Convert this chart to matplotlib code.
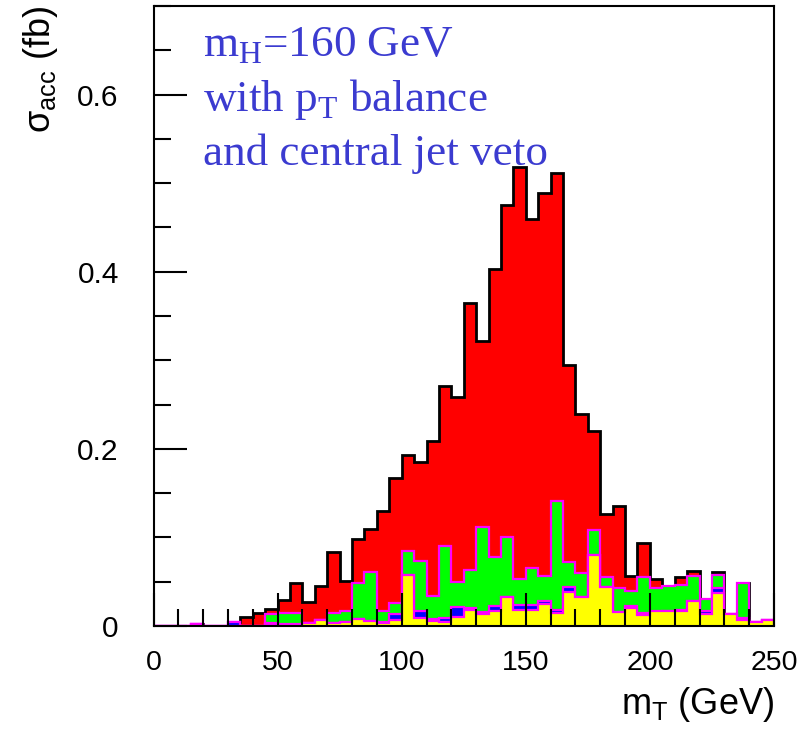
import numpy as np
import matplotlib
matplotlib.use('Agg')
import matplotlib.pyplot as plt
from matplotlib.ticker import MultipleLocator

plt.rcParams['font.family'] = ['Liberation Sans', 'DejaVu Sans']
plt.rcParams['mathtext.fontset'] = 'custom'
plt.rcParams['mathtext.rm'] = 'Liberation Serif'
plt.rcParams['mathtext.sf'] = 'Liberation Sans'

# m_T histograms, 5 GeV bins from 0 to 250 GeV (cumulative stack levels, fb)
edges = np.arange(0, 255, 5)

total = [0, 0, 0, 0.002, 0, 0, 0.0042, 0.0105, 0.015, 0.019,
         0.0294, 0.049, 0.0268, 0.0455, 0.084, 0.051, 0.098, 0.109, 0.130, 0.1675,
         0.193, 0.185, 0.209, 0.2715, 0.258, 0.365, 0.322, 0.4035, 0.4757, 0.518,
         0.46, 0.489, 0.511, 0.295, 0.2395, 0.2207, 0.1266, 0.136, 0.0565, 0.0934,
         0.053, 0.045, 0.0557, 0.0625, 0.031, 0.061, 0.0136, 0.049, 0.005, 0.0068]

green = [0, 0, 0, 0.002, 0, 0, 0.0042, 0, 0, 0.0132,
         0.015, 0.015, 0.003, 0.0068, 0.0143, 0.017, 0.049, 0.0607, 0.017, 0.026,
         0.085, 0.0734, 0.034, 0.0907, 0.05, 0.063, 0.1115, 0.0776, 0.1002, 0.0528,
         0.065, 0.0565, 0.1416, 0.0727, 0.0595, 0.1085, 0.0557, 0.0426, 0.039, 0.0557,
         0.043, 0.045, 0.0463, 0.0565, 0.031, 0.0576, 0.0136, 0.049, 0.005, 0.0068]

blue = [0, 0, 0, 0.002, 0, 0, 0.0042, 0, 0, 0.003,
        0.002, 0.002, 0.003, 0.0068, 0.003, 0.004, 0.0079, 0.006, 0.004, 0.013,
        0.0576, 0.0173, 0.0076, 0.0094, 0.0218, 0.0205, 0.016, 0.0222, 0.0324, 0.0237,
        0.0237, 0.028, 0.018, 0.0437, 0.033, 0.080, 0.0444, 0.016, 0.023, 0.015,
        0.016, 0.017, 0.0185, 0.0286, 0.0168, 0.0426, 0.0136, 0.0087, 0.005, 0.0068]

yellow = [0, 0, 0, 0.002, 0, 0, 0, 0, 0, 0.002,
          0.0015, 0.0015, 0.003, 0.0068, 0.003, 0.004, 0.0079, 0.006, 0.003, 0.0068,
          0.0576, 0.0087, 0.006, 0.005, 0.010, 0.018, 0.013, 0.017, 0.0324, 0.018,
          0.018, 0.025, 0.015, 0.0388, 0.033, 0.080, 0.0444, 0.016, 0.0205, 0.012,
          0.0165, 0.017, 0.0175, 0.0286, 0.0135, 0.037, 0.0136, 0.0065, 0.004, 0.0068]

label_lines = ['m$_{\\mathrm{H}}$=160 GeV',
               'with p$_{\\mathrm{T}}$ balance',
               'and central jet veto']

fig = plt.figure(figsize=(8.06, 7.33), dpi=100)
ax = fig.add_axes([153.5 / 806, 1 - 626 / 733, 620.5 / 806, 620 / 733])

# total first (red, black outline), then the lower components on top of it
ax.stairs(total, edges, fill=True, color='#ff0000', lw=0)
ax.stairs(total, edges, baseline=0, color='black', lw=2.0)
for vals, col in [(green, '#00ff00'), (blue, '#0000ff'), (yellow, '#ffff00')]:
    ax.stairs(vals, edges, fill=True, color=col, lw=0)
    ax.stairs(vals, edges, baseline=0, color='#ff00ff', lw=1.6)

ax.set_xlim(0, 250)
ax.set_ylim(0, 0.7)
ax.set_axisbelow(False)

ax.xaxis.set_major_locator(MultipleLocator(50))
ax.xaxis.set_minor_locator(MultipleLocator(10))
ax.yaxis.set_major_locator(MultipleLocator(0.2))
ax.yaxis.set_minor_locator(MultipleLocator(0.05))
ax.xaxis.set_major_formatter(lambda v, p: f'{v:g}')
ax.yaxis.set_major_formatter(lambda v, p: f'{v:g}')

ax.tick_params(which='both', direction='in', top=False, right=False, width=1.5, color='black')
ax.tick_params(which='major', length=24)
ax.tick_params(axis='x', which='major', pad=17, labelsize=20.5)
ax.tick_params(axis='y', which='major', pad=25, labelsize=21.5)
ax.tick_params(which='minor', length=12)
for s in ax.spines.values():
    s.set_linewidth(1.5)

ax.set_xlabel('m$_{\\mathsf{T}}$ (GeV)', fontsize=26, loc='right')
ax.xaxis.set_label_coords(1.0, -0.095)
ax.set_ylabel('σ$_{\\mathsf{acc}}$ (fb)', fontsize=26, loc='top')
ax.yaxis.set_label_coords(-0.15, 1.0)

for i, line in enumerate(label_lines):
    ax.text(0.08, 0.9177 - 0.0873 * i, line, transform=ax.transAxes,
            fontsize=32.5, family='Liberation Serif', color='#3b3bd0', va='baseline')

plt.savefig('out.png', dpi=100)
plt.close()
